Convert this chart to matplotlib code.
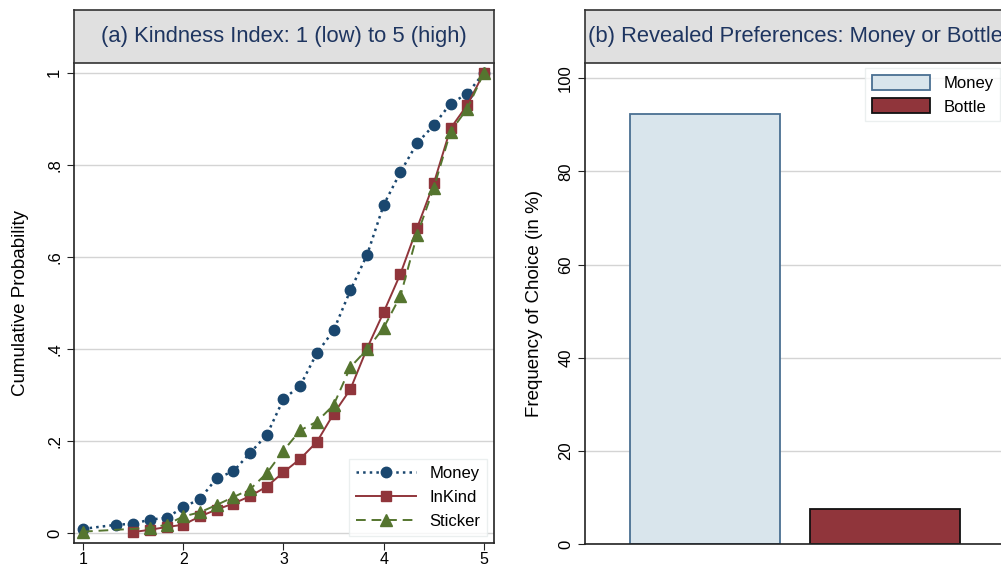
import matplotlib.pyplot as plt
from matplotlib.ticker import FuncFormatter

plt.rcParams['font.family'] = ['Liberation Sans', 'DejaVu Sans']

# Panel (a): cumulative distribution of the kindness index
money_x = [1, 4/3, 1.5, 5/3, 11/6, 2, 13/6, 7/3, 2.5, 8/3, 17/6, 3, 19/6, 10/3,
           3.5, 11/3, 23/6, 4, 25/6, 13/3, 4.5, 14/3, 29/6, 5]
money_y = [0.009, 0.018, 0.020, 0.029, 0.033, 0.056, 0.074, 0.119, 0.134, 0.174,
           0.213, 0.291, 0.320, 0.391, 0.440, 0.527, 0.604, 0.713, 0.784, 0.847,
           0.886, 0.933, 0.954, 1.0]

inkind_x = [1.5, 5/3, 11/6, 2, 13/6, 7/3, 2.5, 8/3, 17/6, 3, 19/6, 10/3,
            3.5, 11/3, 23/6, 4, 25/6, 13/3, 4.5, 14/3, 29/6, 5]
inkind_y = [0.002, 0.007, 0.013, 0.018, 0.036, 0.051, 0.064, 0.080, 0.101, 0.132,
            0.161, 0.198, 0.259, 0.312, 0.401, 0.480, 0.563, 0.663, 0.760, 0.879,
            0.930, 1.0]

sticker_x = [1, 5/3, 11/6, 2, 13/6, 7/3, 2.5, 8/3, 17/6, 3, 19/6, 10/3,
             3.5, 11/3, 23/6, 4, 25/6, 13/3, 4.5, 14/3, 29/6, 5]
sticker_y = [0.003, 0.011, 0.018, 0.036, 0.045, 0.061, 0.078, 0.095, 0.130, 0.179,
             0.223, 0.242, 0.278, 0.360, 0.399, 0.446, 0.515, 0.648, 0.750, 0.872,
             0.922, 1.0]

# Panel (b): revealed preferences
choices = ['Money', 'Bottle']
choice_pct = [92.4, 7.5]

navy = '#1a476f'
maroon = '#90353b'
green = '#55752f'
title_col = '#1e3560'
grid_col = '#d4d4d4'
spine_col = '#222222'

W, H = 1001, 567
fig = plt.figure(figsize=(W / 100, H / 100), dpi=100)


def fig_rect(x0, y0, x1, y1):
    return [x0 / W, 1 - y1 / H, (x1 - x0) / W, (y1 - y0) / H]


def title_box(x0, x1, label):
    tax = fig.add_axes(fig_rect(x0, 10, x1, 63))
    tax.set_facecolor('#e0e0e0')
    tax.set_xticks([])
    tax.set_yticks([])
    for s in tax.spines.values():
        s.set_color('#333333')
        s.set_linewidth(1.2)
    tax.text(0.5, 0.5, label, ha='center', va='center', fontsize=15.8,
             color=title_col, transform=tax.transAxes)


# ---- panel (a)
ax1 = fig.add_axes(fig_rect(74, 63, 494, 543))
ax1.plot(money_x, money_y, linestyle=':', color=navy, marker='o', markersize=7.5,
         linewidth=1.8, label='Money')
ax1.plot(inkind_x, inkind_y, linestyle='-', color=maroon, marker='s', markersize=7,
         linewidth=1.4, label='InKind')
ax1.plot(sticker_x, sticker_y, linestyle=(0, (5, 3)), color=green, marker='^',
         markersize=8, linewidth=1.4, label='Sticker')
ax1.set_xlim(0.91, 5.1)
ax1.set_ylim(-0.0217, 1.021)
ax1.set_xticks([1, 2, 3, 4, 5])
ax1.set_yticks([0, 0.2, 0.4, 0.6, 0.8, 1.0])
ax1.yaxis.set_major_formatter(FuncFormatter(
    lambda v, p: '0' if v == 0 else ('1' if v == 1 else ('%.1f' % v).lstrip('0'))))
ax1.set_ylabel('Cumulative Probability', fontsize=13.5, labelpad=13)
ax1.grid(axis='y', color=grid_col, linewidth=1)
ax1.set_axisbelow(True)
for lab in ax1.get_yticklabels():
    lab.set_rotation(90)
    lab.set_va('center')
ax1.tick_params(labelsize=12, color=spine_col, length=5)
ax1.tick_params(axis='x', labelsize=11.5, pad=1.5)
for s in ax1.spines.values():
    s.set_color(spine_col)
    s.set_linewidth(1.2)
ax1.spines['top'].set_visible(False)
leg1 = ax1.legend(loc='lower right', fontsize=12, handlelength=3.6, frameon=True,
                  fancybox=False, borderaxespad=0.3, labelspacing=0.55,
                  bbox_to_anchor=(0.995, 0.005))
leg1.get_frame().set_edgecolor('#e6ecec')
leg1.get_frame().set_linewidth(1)
title_box(74, 494, '(a) Kindness Index: 1 (low) to 5 (high)')

# ---- panel (b)
ax2 = fig.add_axes(fig_rect(585, 63, 1005, 544))
bars = ax2.bar([0, 1], choice_pct, width=0.8333,
               color=['#d9e5ec', maroon], edgecolor=['#4a6f92', '#111111'],
               linewidth=1.3, label=None)
ax2.set_xlim(-0.667, 1.667)
ax2.set_ylim(0, 103.3)
ax2.set_xticks([])
ax2.set_yticks([0, 20, 40, 60, 80, 100])
ax2.set_ylabel('Frequency of Choice (in %)', fontsize=13.5, labelpad=11)
ax2.grid(axis='y', color=grid_col, linewidth=1)
ax2.set_axisbelow(True)
for lab in ax2.get_yticklabels():
    lab.set_rotation(90)
    lab.set_va('center')
ax2.tick_params(labelsize=12, color=spine_col, length=5)
ax2.spines['top'].set_visible(False)
ax2.spines['right'].set_visible(False)
for s in ['left', 'bottom']:
    ax2.spines[s].set_color(spine_col)
    ax2.spines[s].set_linewidth(1.2)
leg2 = ax2.legend(bars, choices, loc='upper right', fontsize=12, handlelength=3.5,
                  handleheight=1.0, frameon=True, fancybox=False,
                  bbox_to_anchor=(1.0, 1.0), labelspacing=0.45, borderaxespad=0.3)
leg2.get_frame().set_edgecolor('#e6ecec')
title_box(585, 1005, '(b) Revealed Preferences: Money or Bottle')

fig.savefig('out.png', dpi=100)
